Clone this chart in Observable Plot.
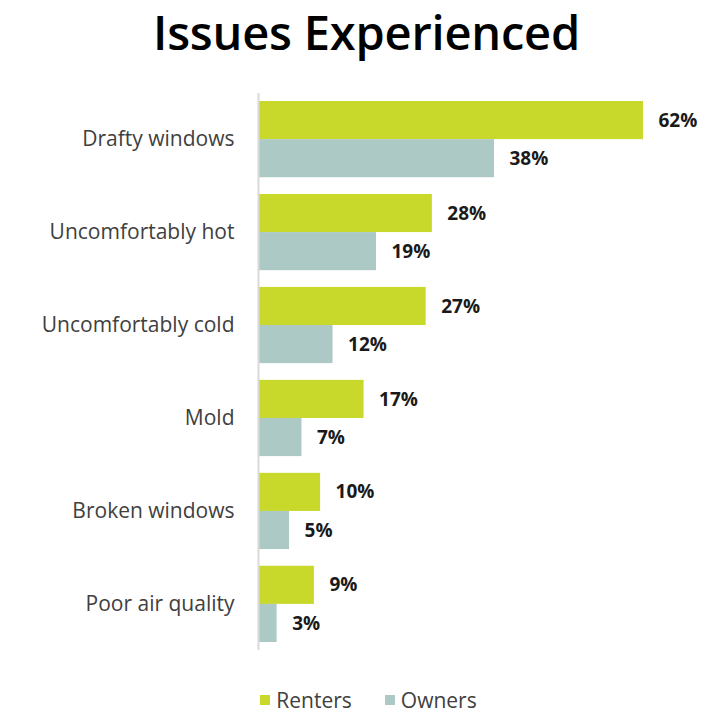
<!DOCTYPE html>
<html>
<head>
<meta charset="utf-8">
<script src="https://cdn.jsdelivr.net/npm/d3@7"></script>
<script src="https://cdn.jsdelivr.net/npm/@observablehq/plot@0.6"></script>
<style>
  html, body { margin: 0; padding: 0; background: #fff; }
  body { width: 723px; height: 713px; overflow: hidden; font-family: "Open Sans", sans-serif; }
  #title { height: 80px; text-align: center; font-size: 47px; font-weight: 600; color: #000; line-height: 64px; letter-spacing: -0.2px; padding-left: 10px; box-sizing: border-box; }
  #legend { display: flex; justify-content: center; align-items: center; gap: 33px; font-size: 21px; color: #404040; margin-top: 16px; padding-left: 14px; line-height: 28px; }
  #legend span.sw { display: inline-block; width: 10px; height: 10px; margin-right: 6px; }
  #legend .item { display: flex; align-items: center; }
</style>
</head>
<body>
<div id="title">Issues Experienced</div>
<div id="chart"></div>
<div id="legend"></div>
<script>
const categories = ["Drafty windows", "Uncomfortably hot", "Uncomfortably cold", "Mold", "Broken windows", "Poor air quality"];
const series = ["Renters", "Owners"];
const renters = [62, 28, 27, 17, 10, 9];
const owners = [38, 19, 12, 7, 5, 3];
const colors = ["#c8d92c", "#adc9c5"];

const rentersData = categories.map((c, i) => ({category: c, value: renters[i]}));
const ownersData = categories.map((c, i) => ({category: c, value: owners[i]}));

const W = 723, H = 590, mt = 13, mb = 20, ml = 258, mr = 80;
const padIn = 0.18, padOut = 0.086;
const bw = d3.scaleBand().domain(categories).range([mt, H - mb]).paddingInner(padIn).paddingOuter(padOut).bandwidth();
const half = bw / 2;

const chart = Plot.plot({
  width: W,
  height: H,
  marginTop: mt,
  marginBottom: mb,
  marginLeft: ml,
  marginRight: mr,
  style: {fontFamily: "Open Sans, sans-serif", background: "#fff"},
  x: {domain: [0, 62], axis: null},
  y: {domain: categories, paddingInner: padIn, paddingOuter: padOut, round: false, label: null, axis: null},
  marks: [
    Plot.barX(rentersData, {x: "value", y: "category", fill: colors[0], insetBottom: half}),
    Plot.barX(ownersData, {x: "value", y: "category", fill: colors[1], insetTop: half}),
    Plot.ruleX([0], {stroke: "#d9d9d9", strokeWidth: 2}),
    Plot.axisY({tickSize: 0, tickPadding: 24, fontSize: 21, fill: "#404040", label: null}),
    Plot.text(rentersData, {x: "value", y: "category", text: d => d.value + "%", dy: -half / 2, dx: 15, textAnchor: "start", fontSize: 19, fontWeight: "bold", fill: "#1a1a1a"}),
    Plot.text(ownersData, {x: "value", y: "category", text: d => d.value + "%", dy: half / 2, dx: 15, textAnchor: "start", fontSize: 19, fontWeight: "bold", fill: "#1a1a1a"})
  ]
});
document.getElementById("chart").appendChild(chart);

const legend = d3.select("#legend");
series.forEach((s, i) => {
  const it = legend.append("div").attr("class", "item");
  it.append("span").attr("class", "sw").style("background", colors[i]);
  it.append("span").text(s);
});
</script>
</body>
</html>
